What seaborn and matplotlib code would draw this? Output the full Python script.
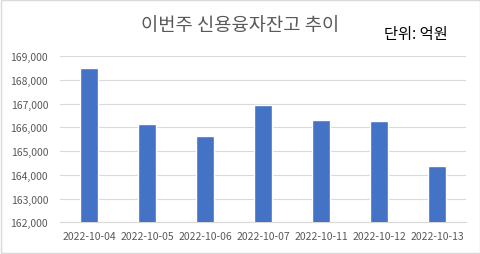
import matplotlib
matplotlib.use("Agg")
import matplotlib.pyplot as plt
import seaborn as sns
import pandas as pd
from matplotlib.ticker import FuncFormatter, MultipleLocator
from matplotlib.patches import Rectangle

dates = ["2022-10-04", "2022-10-05", "2022-10-06", "2022-10-07",
         "2022-10-11", "2022-10-12", "2022-10-13"]
balances = [168480, 166140, 165650, 166930, 166310, 166270, 164370]
title_text = "이번주 신용융자잔고 추이"
unit_text = "단위: 억원"

df = pd.DataFrame({"date": dates, "balance": balances})

sns.set_theme(style="white")
plt.rcParams["font.family"] = ["Noto Sans CJK KR", "DejaVu Sans"]

fig = plt.figure(figsize=(4.81, 2.55), dpi=100)
ax = fig.add_axes([60/481, 1 - 223.3/255, 406/481, (223.3 - 57)/255])

sns.barplot(data=df, x="date", y="balance", color="#4472C4", width=0.31,
            saturation=1, ax=ax, zorder=3)

ax.set_ylim(162000, 169000)
ax.yaxis.set_major_locator(MultipleLocator(1000))
ax.yaxis.set_major_formatter(FuncFormatter(lambda v, p: f"{int(v):,}"))
ax.grid(axis="y", color="#D9D9D9", linewidth=0.8, zorder=0)
ax.set_axisbelow(True)
for s in ["top", "right", "left"]:
    ax.spines[s].set_visible(False)
ax.spines["bottom"].set_color("#D9D9D9")
ax.spines["bottom"].set_linewidth(0.8)
ax.set_xlabel("")
ax.set_ylabel("")
ax.tick_params(axis="both", length=0, labelsize=7.5, colors="#595959")
ax.tick_params(axis="x", pad=6)
ax.tick_params(axis="y", pad=8.5)

fig.text(240/481, 1 - 25/255, title_text, ha="center", va="center",
         fontsize=13.5, color="#595959")
fig.text(416/481, 1 - 34/255, unit_text, ha="center", va="center",
         fontsize=11, color="black")

fig.patches.append(Rectangle((0.002, 0.004), 0.996, 0.992, transform=fig.transFigure,
                             fill=False, edgecolor="#D9D9D9", linewidth=1))

fig.savefig("out.png", dpi=100)
